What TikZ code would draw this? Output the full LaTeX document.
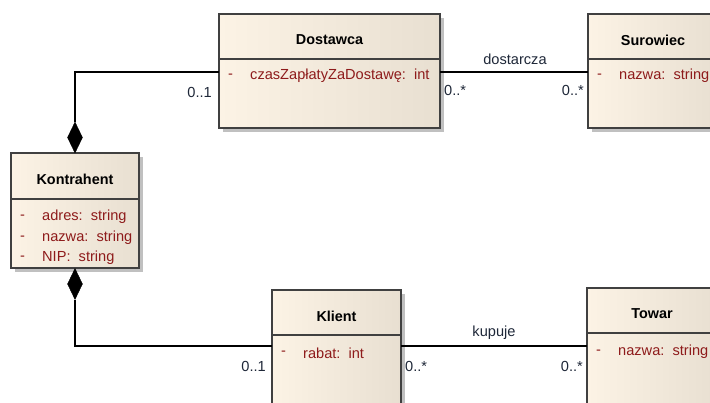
\documentclass[tikz,border=0pt]{standalone}
\usepackage{fontspec}
\setmainfont{Liberation Sans}
\usetikzlibrary{shapes.geometric,shadows}
\definecolor{boxl}{HTML}{FCF3E5}
\definecolor{boxr}{HTML}{E8DFD1}
\definecolor{frame}{HTML}{404040}
\definecolor{attrc}{HTML}{8E1B1B}
\definecolor{multc}{HTML}{1E2738}
\definecolor{shad}{HTML}{C0C0C0}
\begin{document}
\begin{tikzpicture}[x=1pt,y=-1pt,
  font=\fontsize{14.6}{16}\selectfont,
  umlbox/.style={draw=frame, line width=1.3pt, left color=boxl, right color=boxr,
    drop shadow={shadow xshift=4pt, shadow yshift=-4pt, fill=shad, opacity=1},
    anchor=north west, inner sep=0pt, outer sep=0pt},
  sepline/.style={draw=frame, line width=1.3pt},
  umltitle/.style={font=\fontsize{14.4}{16}\selectfont\bfseries, text=black, inner sep=0pt},
  umlattr/.style={text=attrc, anchor=west, inner sep=0pt},
  multlabel/.style={text=multc, inner sep=0pt},
  conn/.style={line width=1.2pt, draw=black},
  comp/.style={diamond, fill=black, draw=black, minimum width=15pt, minimum height=31pt, inner sep=0pt}]
\useasboundingbox (0,0) rectangle (710,403);
\clip (0,0) rectangle (710,403);

% Dostawca
\node[umlbox, minimum width=221pt, minimum height=114pt] (dost) at (219,14) {};
\draw[sepline] (219,59) -- (440,59);
\node[umltitle] (dostT) at (329.5,40) {Dostawca};
\node[umlattr] (dostD) at (228,76) {-};
\node[umlattr] (dostA) at (250,76) {czasZapłatyZaDostawę:\ \ int};

% Surowiec
\node[umlbox, minimum width=130pt, minimum height=114pt] (sur) at (588,14) {};
\draw[sepline] (588,59) -- (718,59);
\node[umltitle] (surT) at (653,40) {Surowiec};
\node[umlattr] (surD) at (597,76) {-};
\node[umlattr] (surA) at (619,76) {nazwa:\ \ string};

% Kontrahent
\node[umlbox, minimum width=128pt, minimum height=115pt] (kon) at (11,153) {};
\draw[sepline] (11,199) -- (139,199);
\node[umltitle] (konT) at (75,179) {Kontrahent};
\node[umlattr] (konD1) at (20,217) {-};
\node[umlattr] (konA1) at (42,217) {adres:\ \ string};
\node[umlattr] (konD2) at (20,238) {-};
\node[umlattr] (konA2) at (42,238) {nazwa:\ \ string};
\node[umlattr] (konD3) at (20,258) {-};
\node[umlattr] (konA3) at (42,258) {NIP:\ \ string};

% Klient
\node[umlbox, minimum width=129pt, minimum height=130pt] (kli) at (272,290) {};
\draw[sepline] (272,335) -- (401,335);
\node[umltitle] (kliT) at (336.5,316) {Klient};
\node[umlattr] (kliD) at (281,353) {-};
\node[umlattr] (kliA) at (303,353) {rabat:\ \ int};

% Towar
\node[umlbox, minimum width=131pt, minimum height=130pt] (tow) at (587,288) {};
\draw[sepline] (587,333) -- (718,333);
\node[umltitle] (towT) at (652,314) {Towar};
\node[umlattr] (towD) at (596,352) {-};
\node[umlattr] (towA) at (618,352) {nazwa:\ \ string};

% attachment points
\coordinate (dostL) at (219,72);
\coordinate (dostR) at (440,72);
\coordinate (surL) at (588,72);
\coordinate (kliL) at (272,346);
\coordinate (kliR) at (401,346);
\coordinate (towL) at (587,346);

% composition diamonds
\node[comp] (dtop) at (75,137.5) {};
\node[comp] (dbot) at (75,284) {};

% connectors
\draw[conn] (dtop.north) |- (dostL);
\draw[conn] (dbot.south) |- (kliL);
\draw[conn] (dostR) -- (surL);
\draw[conn] (kliR) -- (towL);

% labels
\node[multlabel] (lab1) at (515,59) {dostarcza};
\node[multlabel] (lab2) at (494,333) {kupuje};
\node[multlabel, anchor=east] (m1) at (212,92) {0..1};
\node[multlabel, anchor=west] (m2) at (444,90) {0..*};
\node[multlabel, anchor=east] (m3) at (584,90) {0..*};
\node[multlabel, anchor=east] (m4) at (266,366) {0..1};
\node[multlabel, anchor=west] (m5) at (405,366) {0..*};
\node[multlabel, anchor=east] (m6) at (583,366) {0..*};
\end{tikzpicture}
\end{document}
